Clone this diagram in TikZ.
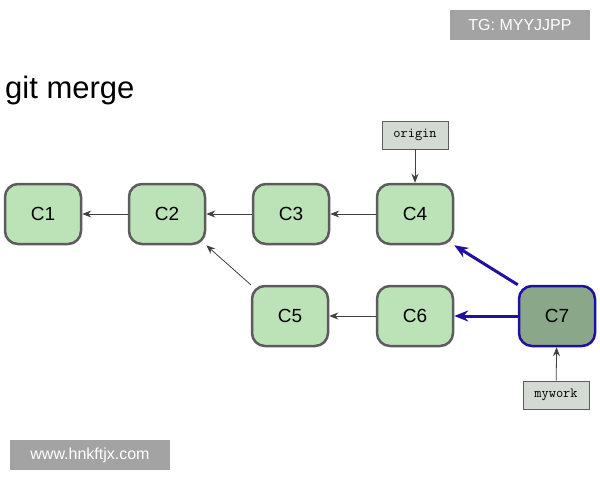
\documentclass[tikz,border=0pt]{standalone}
\usepackage{fontspec}
\setmainfont{Liberation Sans}
\usetikzlibrary{arrows.meta}
\definecolor{cfill}{HTML}{BCE3B8}
\definecolor{cdraw}{HTML}{5C5C5C}
\definecolor{mfill}{HTML}{8BA78A}
\definecolor{mblue}{HTML}{2010A0}
\definecolor{lfill}{HTML}{D3DAD3}
\definecolor{wm}{HTML}{A3A3A3}
\begin{document}
\begin{tikzpicture}[x=1pt,y=-1pt,
 commit/.style={draw=cdraw,fill=cfill,line width=2.5pt,rounded corners=13pt,minimum width=76pt,minimum height=60pt,font=\fontsize{19}{19}\selectfont},
 merge/.style={commit,draw=mblue,fill=mfill},
 lbl/.style={draw=cdraw,fill=lfill,line width=0.8pt,minimum width=66pt,minimum height=28pt,font=\ttfamily\fontsize{14}{14}\selectfont},
 thin/.style={-{Stealth[length=9pt,width=7pt]},line width=0.8pt,draw=black!75},
 thick/.style={-{Stealth[length=14pt,width=11pt]},line width=3pt,draw=mblue},
 wmk/.style={fill=wm,text=white,font=\fontsize{16}{16}\selectfont,inner sep=0pt}]
\useasboundingbox (0,0) rectangle (600,480);
\node[wmk,minimum width=140pt,minimum height=30pt] (tg) at (520,25) {TG: MYYJJPP};
\node[wmk,minimum width=160pt,minimum height=30pt] (www) at (90,455) {www.hnkftjx.com};
\node[anchor=west,inner sep=0pt,font=\fontsize{31}{31}\selectfont] (title) at (5,90) {git merge};
\node[commit] (c1) at (43,214) {C1};
\node[commit] (c2) at (167,214) {C2};
\node[commit] (c3) at (291,214) {C3};
\node[commit] (c4) at (415,214) {C4};
\node[commit] (c5) at (290,316) {C5};
\node[commit] (c6) at (415,316) {C6};
\node[merge] (c7) at (557,316) {C7};
\node[lbl] (origin) at (415,135) {origin};
\node[lbl] (mywork) at (556,395) {mywork};
\draw[thin] (c2) -- (c1);
\draw[thin] (c3) -- (c2);
\draw[thin] (c4) -- (c3);
\draw[thin] (c6) -- (c5);
\draw[thin] (c5.north west) -- (c2.south east);
\draw[thin] (origin) -- (c4);
\draw[thin] (mywork) -- (c7);
\draw[thick] (c7) -- (c6);
\draw[thick] (c7.north west) -- (c4.south east);
\end{tikzpicture}
\end{document}
